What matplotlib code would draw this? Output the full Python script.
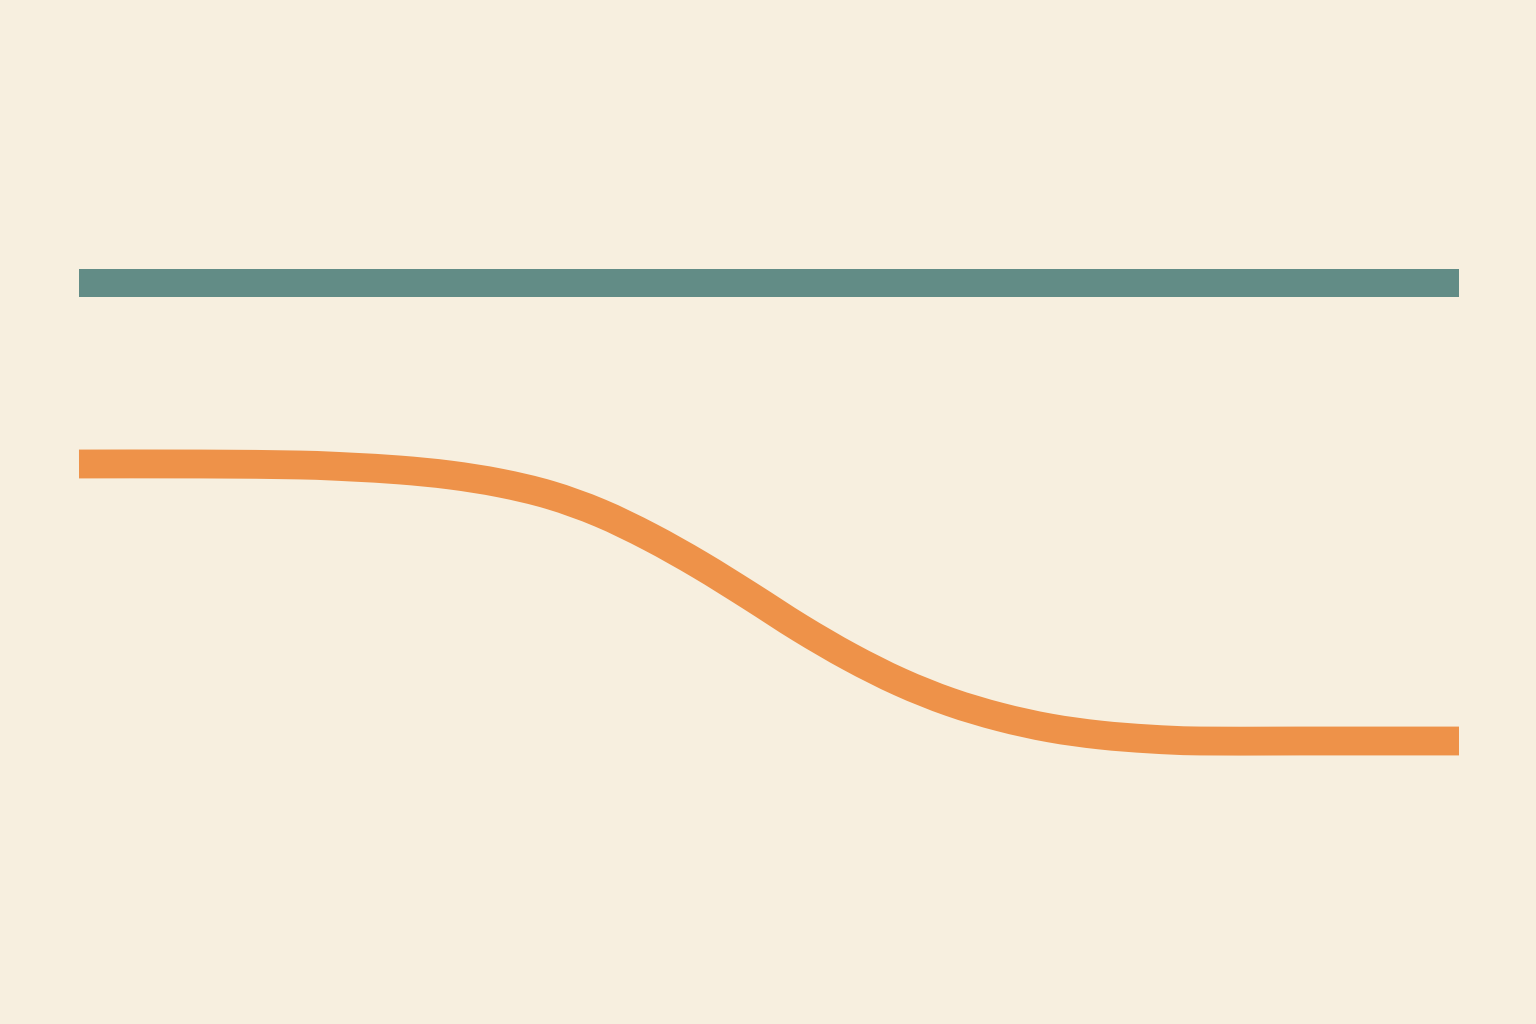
import matplotlib
matplotlib.use("Agg")
import matplotlib.pyplot as plt
from matplotlib.path import Path
from matplotlib.patches import PathPatch
import numpy as np

# positions (x across, value downwards)
x_top = [79, 1459]
y_top = [283, 283]

x_curve = [79, 200, 300, 350, 400, 450, 500, 550, 600, 650, 700, 750, 800,
           850, 900, 950, 1000, 1050, 1100, 1150, 1200, 1300, 1459]
y_curve = [464, 464, 465, 467, 470, 475, 483, 495, 513, 537, 565, 596, 628,
           657, 682, 702, 717, 728, 735, 739, 741, 741, 741]

bg = "#F7EFDF"
teal = "#628C86"
orange = "#EE9249"


def smooth_path(xs, ys):
    # catmull-rom through the points, as cubic bezier segments
    pts = np.column_stack([xs, ys]).astype(float)
    verts = [pts[0]]
    codes = [Path.MOVETO]
    n = len(pts)
    for i in range(n - 1):
        p0 = pts[max(i - 1, 0)]
        p1 = pts[i]
        p2 = pts[i + 1]
        p3 = pts[min(i + 2, n - 1)]
        c1 = p1 + (p2 - p0) / 6
        c2 = p2 - (p3 - p1) / 6
        verts += [c1, c2, p2]
        codes += [Path.CURVE4] * 3
    return Path(verts, codes)


fig = plt.figure(figsize=(15.36, 10.24), dpi=100, facecolor=bg)
ax = fig.add_axes([0, 0, 1, 1])
ax.set_facecolor(bg)
ax.set_xlim(0, 1536)
ax.set_ylim(1024, 0)
ax.axis("off")

lw = 28 * 72 / 100
ax.plot(x_top, y_top, color=teal, lw=lw, solid_capstyle="butt")
ax.add_patch(PathPatch(smooth_path(x_curve, y_curve), fill=False,
                       edgecolor=orange, lw=lw + 0.6, capstyle="butt",
                       joinstyle="round"))

fig.savefig("out.png", dpi=100, facecolor=bg)
